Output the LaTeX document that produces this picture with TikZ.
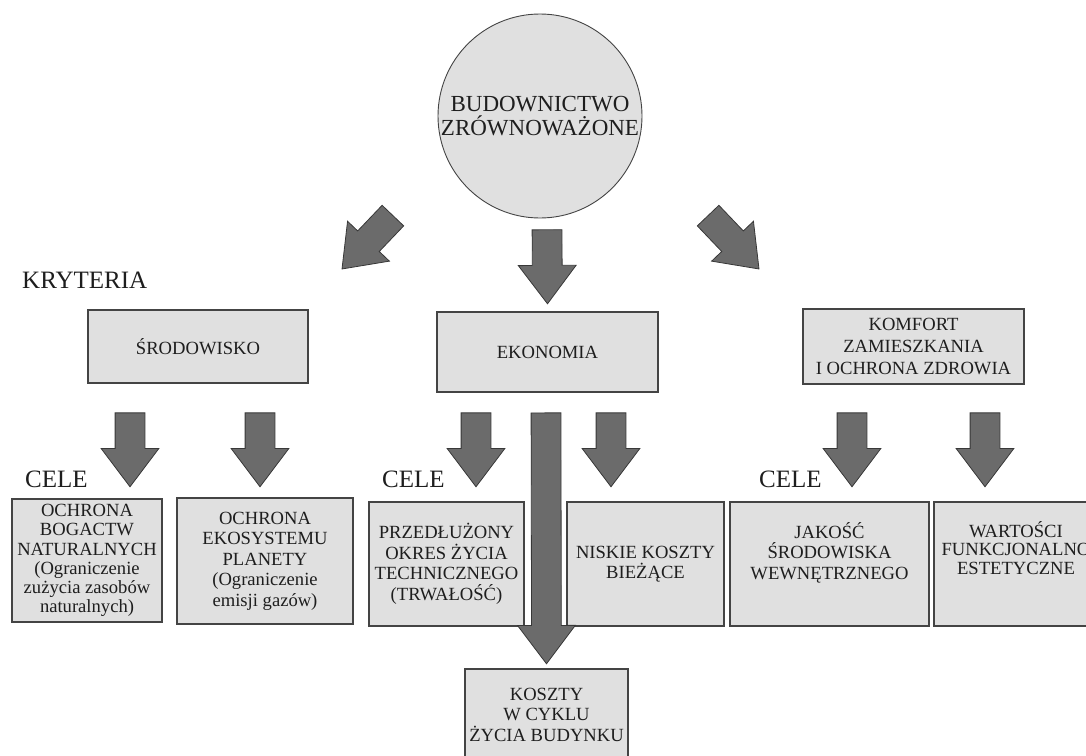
\documentclass[tikz,border=0pt]{standalone}
\usepackage{fontspec}
\setmainfont{Liberation Serif}
\usepackage{xcolor}
\usepackage{tikz}
\usetikzlibrary{calc, shapes.arrows, positioning}

\definecolor{boxfill}{HTML}{E0E0E0}
\definecolor{boxline}{HTML}{444444}
\definecolor{arrowfill}{HTML}{6B6B6B}
\definecolor{arrowline}{HTML}{383838}
\definecolor{ink}{HTML}{1E1E1E}

% block arrow from one point to another
\newcommand{\bigarrow}[2]{%
  \path let \p1=#1, \p2=#2,
    \n1={atan2(\y2-\y1,\x2-\x1)}, \n2={veclen(\x2-\x1,\y2-\y1)} in
    node[blockarrow, minimum height=\n2, rotate=\n1, anchor=tip] at (\p2) {};}

\begin{document}
\begin{tikzpicture}[
            x=1pt, y=-1pt,
            textcolor/.style={text=ink},
            goal/.style={rectangle, draw=boxline, fill=boxfill, line width=1.1pt,
                align=center, inner sep=2pt, textcolor,
                font=\fontsize{18.6}{20.5}\selectfont},
            hub/.style={circle, draw=boxline, fill=boxfill, line width=0.9pt,
                minimum size=204pt, inner sep=0pt, align=center, textcolor,
                font=\fontsize{23}{23.5}\selectfont},
            heading/.style={anchor=base west, inner sep=0pt, textcolor,
                font=\fontsize{25}{26}\selectfont},
            blockarrow/.style={single arrow, draw=arrowline, fill=arrowfill,
                line width=0.8pt, inner xsep=0pt, inner ysep=14.5pt,
                text height=0pt, text depth=0pt, text width=0pt,
                single arrow head extend=14pt, single arrow tip angle=74}
        ]
        \useasboundingbox (0,0) rectangle (1086,755);
        \clip (0,0) rectangle (1086,755);

        % Nodes (manual layout to match figure)
        \node[hub] (circ) at (540,116) {BUDOWNICTWO\\ZRÓWNOWAŻONE};

        \node[heading] (kryt) at (22,288) {KRYTERIA};

        \node[goal, minimum width=220pt, minimum height=73pt] (srod) at (198,346.5) {ŚRODOWISKO};
        \node[goal, minimum width=221pt, minimum height=80pt] (eko) at (547.5,352) {EKONOMIA};
        \node[goal, minimum width=221pt, minimum height=75pt,
              font=\fontsize{18.6}{22}\selectfont] (komf) at (913.5,346.5)
            {KOMFORT\\ZAMIESZKANIA\\I OCHRONA ZDROWIA};

        \node[heading] (cele1) at (25,487) {CELE};
        \node[heading] (cele2) at (382,487) {CELE};
        \node[heading] (cele3) at (759,487) {CELE};

        \node[goal, minimum width=150pt, minimum height=123pt, inner sep=0pt,
              font=\fontsize{18.6}{19.3}\selectfont] (bog) at (87,560.5)
            {OCHRONA\\BOGACTW\\NATURALNYCH\\(Ograniczenie\\zużycia zasobów\\naturalnych)};
        \node[goal, minimum width=176pt, minimum height=126pt] (eco) at (265,561)
            {OCHRONA\\EKOSYSTEMU\\PLANETY\\(Ograniczenie\\emisji gazów)};
        \node[goal, minimum width=155pt, minimum height=124pt] (prz) at (446.5,564)
            {PRZEDŁUŻONY\\OKRES ŻYCIA\\TECHNICZNEGO\\(TRWAŁOŚĆ)};
        \node[goal, minimum width=157pt, minimum height=124pt] (nisk) at (645.5,564)
            {NISKIE KOSZTY\\BIEŻĄCE};
        \node[goal, minimum width=199pt, minimum height=124pt] (jak) at (829.5,564)
            {JAKOŚĆ\\ŚRODOWISKA\\WEWNĘTRZNEGO\\[6pt]};
        \node[goal, minimum width=164pt, minimum height=124pt] (war) at (1016,564)
            {WARTOŚCI\\[-2pt]FUNKCJONALNO\\[-2pt]ESTETYCZNE\\[12pt]};

        \node[goal, minimum width=163pt, minimum height=91pt] (kosz) at (546.5,714.5)
            {KOSZTY\\W CYKLU\\ŻYCIA BUDYNKU};

        % Arrows
        \bigarrow{([xshift=-75pt,yshift=-27.5pt]circ.south west)}{([xshift=33pt,yshift=40pt]srod.north east)}
        \bigarrow{([xshift=7pt,yshift=-12pt]circ.south)}{([yshift=7pt]eko.north)}
        \bigarrow{([xshift=96pt,yshift=-27.5pt]circ.south east)}{([xshift=-43pt,yshift=39pt]komf.north west)}

        \bigarrow{([xshift=-68pt,yshift=-30pt]srod.south)}{([xshift=43pt,yshift=11pt]bog.north)}
        \bigarrow{([xshift=62pt,yshift=-30pt]srod.south)}{([xshift=-5pt,yshift=10pt]eco.north)}

        \bigarrow{([xshift=-71.5pt,yshift=-21pt]eko.south)}{([xshift=29.5pt,yshift=14pt]prz.north)}
        \bigarrow{([xshift=-1.5pt,yshift=-21pt]eko.south)}{([yshift=4pt]kosz.north)}
        \bigarrow{([xshift=63.5pt,yshift=-21pt]eko.south)}{([xshift=-34.5pt,yshift=14pt]nisk.north)}

        \bigarrow{([xshift=-61.5pt,yshift=-29pt]komf.south)}{([xshift=22.5pt,yshift=14pt]jak.north)}
        \bigarrow{([xshift=71.5pt,yshift=-29pt]komf.south)}{([xshift=-31pt,yshift=14pt]war.north)}

    \end{tikzpicture}
\end{document}
